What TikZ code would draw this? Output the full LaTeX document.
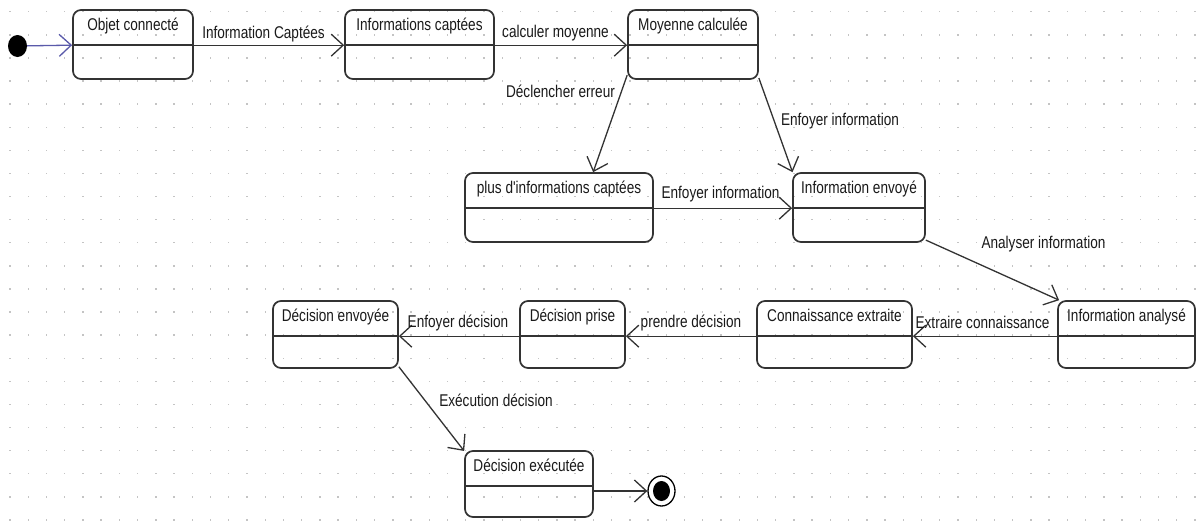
\documentclass[tikz,border=0pt]{standalone}
\usepackage{fontspec}
\newfontfamily\diagfont[FakeStretch=0.8]{Liberation Sans}
\usetikzlibrary{arrows.meta,calc,shapes.geometric}
\definecolor{ink}{HTML}{333333}
\definecolor{txt}{HTML}{1A1A1A}
\definecolor{initblue}{HTML}{5A5AAA}
\definecolor{griddot}{HTML}{C4C4C4}

% A state: rounded box, title on top, separator line below the title
\newcommand\statebox[6]{%
  \node[state, minimum width=#4pt, minimum height=#5pt] (#1) at (#2,#3) {};
  \node[title] (#1-t) at ($(#1.north)+(0,21)$) {#6};
  \coordinate (#1-l) at ($(#1.north west)+(0,36)$);
  \coordinate (#1-r) at ($(#1.north east)+(0,36)$);
  \draw[sepline] (#1-l) -- (#1-r);
}

\begin{document}
\begin{tikzpicture}[x=1pt,y=-1pt,
  state/.style={draw=ink, line width=1.7pt, rounded corners=8pt, rectangle, inner sep=0pt},
  sepline/.style={draw=ink, line width=1.5pt},
  title/.style={anchor=base, inner sep=0pt, font=\diagfont\fontsize{17}{19}\selectfont, text=txt},
  lbl/.style={anchor=base, inner sep=0pt, font=\diagfont\fontsize{17}{19}\selectfont, text=txt},
  trans/.style={draw=ink, line width=1.3pt, -{Straight Barb[length=12pt,width=22pt]}},
  initarrow/.style={draw=initblue, line width=1.3pt, -{Straight Barb[length=12pt,width=22pt]}},
]
\useasboundingbox (0,0) rectangle (1196,520);
\fill[white] (0,0) rectangle (1196,520);

% dotted background grid
\foreach \i in {0,...,65}
  \foreach \j in {0,...,22}
    \fill[griddot] ({10+18.23*\i-0.7},{11.7+23.1*\j-0.7}) rectangle +(1.4,1.4);

% states
\statebox{b1}{133}{44.5}{120}{69}{Objet connecté}
\statebox{b2}{419.5}{44.5}{149}{69}{Informations captées}
\statebox{b3}{693}{44.5}{130}{69}{Moyenne calculée}
\statebox{b4}{559}{207.5}{188}{69}{plus d'informations captées}
\statebox{b5}{859}{207.5}{132}{69}{Information envoyé}
\statebox{b6}{1126.5}{334.5}{137}{67}{Information analysé}
\statebox{b7}{834.5}{334.5}{155}{67}{Connaissance extraite}
\statebox{b8}{572.5}{334.5}{105}{67}{Décision prise}
\statebox{b9}{335.5}{334.5}{125}{67}{Décision envoyée}
\statebox{b10}{529}{484}{128}{66}{Décision exécutée}

% initial and final pseudo-states
\node[ellipse, fill=black, minimum width=19pt, minimum height=22pt, inner sep=0pt] (init) at (17.5,46) {};
\node[ellipse, draw=black, line width=1.3pt, minimum width=27pt, minimum height=30pt, inner sep=0pt] (final) at (661.5,491) {};
\node[ellipse, fill=black, minimum width=17pt, minimum height=20pt, inner sep=0pt] (finalcore) at (final.center) {};

% transitions
\draw[initarrow] (init) -- (b1-l);
\draw[trans] (b1-r) -- (b2-l);
\draw[trans] (b2-r) -- (b3-l);
\draw[trans] (b3.205) -- (b4.46);
\draw[trans] (b3.-27) -- (b5.152);
\draw[trans] (b4-r) -- (b5-l);
\draw[trans] (b5.-26) -- (b6.153);
\draw[trans] (b6-l) -- (b7-r);
\draw[trans] (b7-l) -- (b8-r);
\draw[trans] (b8-l) -- (b9-r);
\draw[trans] (b9.-27) -- (b10.153);
\draw[trans] (b10.east |- final.center) -- (final);

% transition labels
\node[lbl] (l12) at (263.5,38) {Information Captées};
\node[lbl] (l23) at (555.5,37) {calculer moyenne};
\node[lbl] (l34) at (560.5,97) {Déclencher erreur};
\node[lbl] (l35) at (840,125) {Enfoyer information};
\node[lbl] (l45) at (720.5,198) {Enfoyer information};
\node[lbl] (l56) at (1043.5,248) {Analyser information};
\node[lbl] (l67) at (982.5,328) {Extraire connaissance};
\node[lbl] (l78) at (691,327) {prendre décision};
\node[lbl] (l89) at (458,327) {Enfoyer décision};
\node[lbl] (l910) at (496,406) {Exécution décision};
\end{tikzpicture}
\end{document}
